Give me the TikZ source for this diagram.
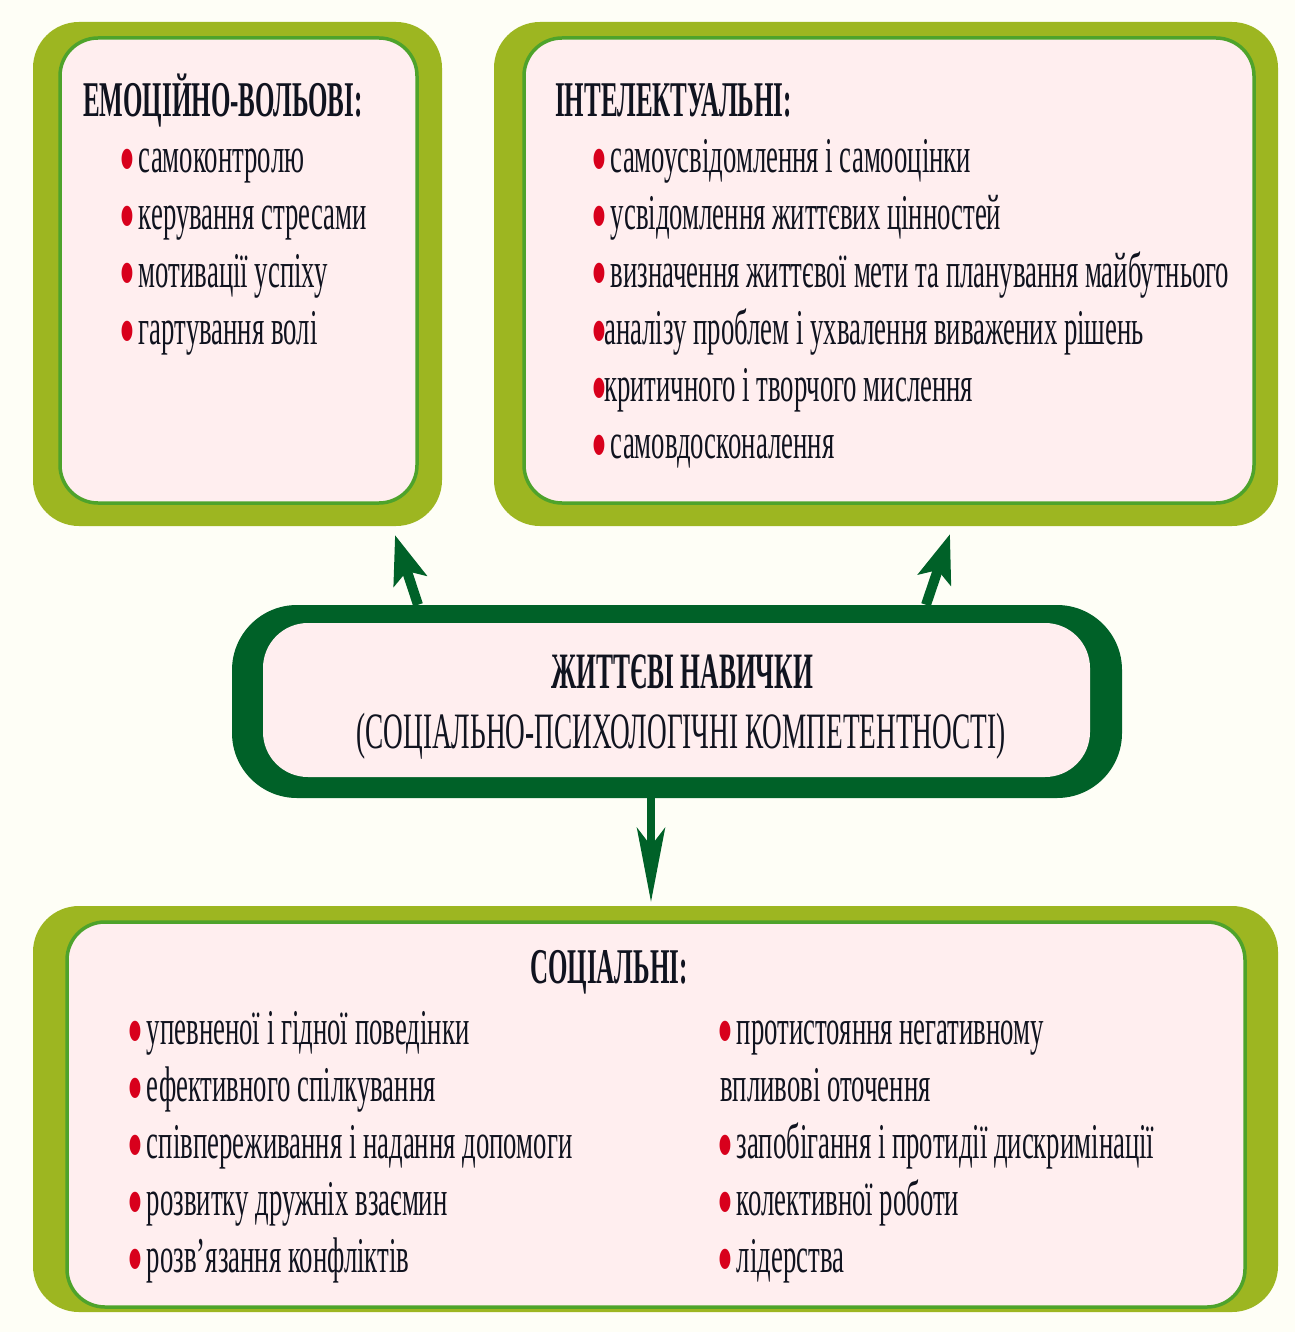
\documentclass[tikz,border=0pt]{standalone}
\usepackage{fontspec}
\setmainfont{Liberation Serif}[FakeStretch=0.535, BoldFeatures={FakeStretch=0.5}]
\usepackage{xcolor}
\usetikzlibrary{arrows.meta}

\definecolor{cream}{HTML}{FEFEF6}
\definecolor{olive}{HTML}{9DB621}
\definecolor{leaf}{HTML}{4EA32B}
\definecolor{blush}{HTML}{FFEEEF}
\definecolor{pine}{HTML}{006128}
\definecolor{dotred}{HTML}{D8001C}
\definecolor{ink}{HTML}{10131F}

\newcommand{\bul}{\makebox[10pt]{\smash{\textcolor{dotred}{\raisebox{-15pt}{\scalebox{1.7}{•}}}}}}

\tikzset{
  backbox/.style={fill=olive, rounded corners=46pt, inner sep=0pt},
  panel/.style={fill=blush, draw=leaf, line width=3.5pt, rounded corners=38pt, inner sep=0pt},
  heading/.style={anchor=base west, inner sep=0pt, text=ink, font=\fontsize{50}{57}\selectfont\bfseries},
  item/.style={anchor=base west, inner sep=0pt, text=ink, font=\fontsize{50}{57}\selectfont},
  pointer/.style={pine, line width=10pt, -{Stealth[length=48pt,width=34pt,inset=10pt]}},
  dpointer/.style={pine, line width=8pt, -{Stealth[length=74pt,width=28pt,inset=18pt]}},
}

\begin{document}
\begin{tikzpicture}[x=1pt,y=-1pt]
 \fill[cream] (0,0) rectangle (1295,1332);
 \useasboundingbox (0,0) rectangle (1295,1332);

 % green frames
 \node[backbox, minimum width=409pt, minimum height=504pt] (emoback) at (237.5,274) {};
 \node[backbox, minimum width=784pt, minimum height=504pt] (intback) at (886,274) {};
 \node[backbox, minimum width=1245pt, minimum height=406pt] (socback) at (655.5,1109) {};
 \node[panel, minimum width=357pt, minimum height=465pt] (emo) at (238.5,270.5) {};
 \node[panel, minimum width=730pt, minimum height=465pt] (int) at (889,270.5) {};
 \node[panel, minimum width=1178pt, minimum height=385pt] (soc) at (656,1114.5) {};

 % central box
 \node[fill=pine, rounded corners=65pt, minimum width=890pt, minimum height=193pt] (coreback) at (677,701.5) {};
 \node[fill=blush, rounded corners=45pt, minimum width=827pt, minimum height=154pt] (core) at (676.5,700) {};

 \coordinate (emotip) at (395,535);
 \coordinate (inttip) at (950,534);
 \coordinate (soctip) at (651,902);

 \draw[pointer] ([xshift=-259pt]coreback.north) -- (emotip);
 \draw[pointer] ([xshift=249pt]coreback.north) -- (inttip);
 \draw[dpointer] ([xshift=-26pt]coreback.south) -- (soctip);

 \node[anchor=base, inner sep=0pt, text=ink, font=\fontsize{51}{57}\selectfont\bfseries] (coretitle) at (682,688) {ЖИТТЄВІ НАВИЧКИ};
 \node[anchor=base, inner sep=0pt, text=ink, font=\fontsize{51}{57}\selectfont] (coresub) at (681,748) {(СОЦІАЛЬНО-ПСИХОЛОГІЧНІ КОМПЕТЕНТНОСТІ)};

 % emotional
 \node[heading] (emohead) at (83,117) {ЕМОЦІЙНО-ВОЛЬОВІ:};
 \foreach \t [count=\i] in {самоконтролю, керування стресами, мотивації успіху, гартування волі}
   \node[item] (emo\i) at (122,{173+57*(\i-1)}) {\bul\ \t};

 % intellectual
 \node[heading] (inthead) at (555,117) {ІНТЕЛЕКТУАЛЬНІ:};
 \foreach \t [count=\i] in {\bul\ самоусвідомлення і самооцінки,
     \bul\ усвідомлення життєвих цінностей,
     \bul\ визначення життєвої мети та планування майбутнього,
     \bul аналізу проблем і ухвалення виважених рішень,
     \bul критичного і творчого мислення,
     \bul\ самовдосконалення}
   \node[item] (int\i) at (594,{173+57*(\i-1)}) {\t};

 % social
 \node[heading] (sochead) at (530,983) {СОЦІАЛЬНІ:};
 \foreach \t [count=\i] in {упевненої і гідної поведінки, ефективного спілкування,
     співпереживання і надання допомоги, розвитку дружніх взаємин, розв’язання конфліктів}
   \node[item] (socl\i) at (130,{1044+57*(\i-1)}) {\bul\ \t};
 \foreach \t [count=\i] in {\bul\ протистояння негативному, впливові оточення,
     \bul\ запобігання і протидії дискримінації, \bul\ колективної роботи, \bul\ лідерства}
   \node[item] (socr\i) at (720,{1044+57*(\i-1)}) {\t};
\end{tikzpicture}
\end{document}
